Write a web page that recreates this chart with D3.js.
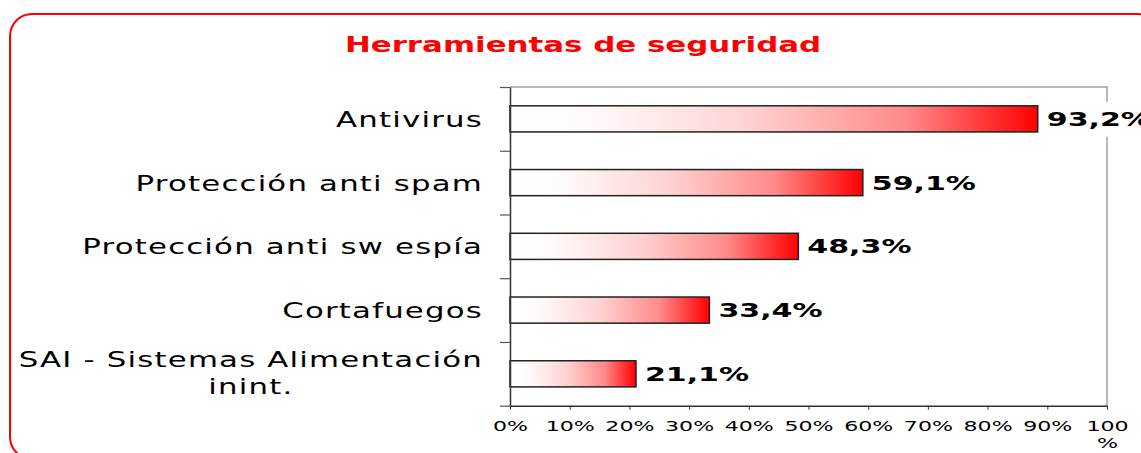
<!DOCTYPE html>
<html>
<head>
<meta charset="utf-8">
<script src="https://cdn.jsdelivr.net/npm/d3@7"></script>
<style>
body { margin: 0; background: #fff; overflow: hidden; }
text { font-family: "DejaVu Sans", Verdana, sans-serif; }
</style>
</head>
<body>
<svg width="1141" height="453"></svg>
<script>
// data
var categories = ["Antivirus", "Protección anti spam", "Protección anti sw espía", "Cortafuegos", "SAI - Sistemas Alimentación inint."];
var barValues = [88.4, 59.1, 48.3, 33.4, 21.1];   // bar lengths as drawn
var valueLabels = ["93,2%", "59,1%", "48,3%", "33,4%", "21,1%"];
var xTicks = [0, 10, 20, 30, 40, 50, 60, 70, 80, 90, 100];
var title = "Herramientas de seguridad";

var svg = d3.select("svg");

var plotLeft = 510, plotRight = 1107, plotTop = 87, plotBottom = 405.7;

// outer rounded frame
svg.append("rect")
    .attr("x", 10).attr("y", 14)
    .attr("width", 1150).attr("height", 445)
    .attr("rx", 22).attr("ry", 22)
    .attr("fill", "#fff")
    .attr("stroke", "#ff0000")
    .attr("stroke-width", 2);

svg.append("text")
    .attr("transform", "translate(583,52) scale(1.47,1)")
    .attr("text-anchor", "middle")
    .attr("font-size", 21)
    .attr("font-weight", "bold")
    .attr("fill", "#ff0000")
    .text(title);

var x = d3.scaleLinear().domain([0, 100]).range([plotLeft, plotRight]);
var y = d3.scaleBand().domain(categories).range([plotTop, plotBottom])
    .paddingInner(0.59).paddingOuter(0.295);
var yEdge = d3.scaleLinear().domain([0, categories.length]).range([plotTop, plotBottom]);

var defs = svg.append("defs");
var grad = defs.append("linearGradient").attr("id", "barGrad")
    .attr("x1", "0%").attr("x2", "100%").attr("y1", "0%").attr("y2", "0%");
grad.append("stop").attr("offset", "0%").attr("stop-color", "#ffffff");
grad.append("stop").attr("offset", "15%").attr("stop-color", "#fffafa");
grad.append("stop").attr("offset", "45%").attr("stop-color", "#ffd2d2");
grad.append("stop").attr("offset", "75%").attr("stop-color", "#ff8a8a");
grad.append("stop").attr("offset", "100%").attr("stop-color", "#ff0000");

// plot area border (top + right, grey)
svg.append("path")
    .attr("d", "M" + plotLeft + "," + plotTop + "H" + plotRight + "V" + plotBottom)
    .attr("fill", "none")
    .attr("stroke", "#a0a0a0")
    .attr("stroke-width", 1.5);

// bars
svg.append("g").selectAll("rect")
    .data(categories)
    .enter().append("rect")
      .attr("x", x(0))
      .attr("y", function(d) { return y(d); })
      .attr("width", function(d, i) { return x(barValues[i]) - x(0); })
      .attr("height", y.bandwidth())
      .attr("fill", "url(#barGrad)")
      .attr("stroke", "#222")
      .attr("stroke-width", 1.5);

// left axis (ticks between categories)
var yAxis = svg.append("g")
    .attr("transform", "translate(" + plotLeft + ",0)")
    .call(d3.axisLeft(yEdge).tickValues(d3.range(categories.length + 1))
      .tickFormat("").tickSize(10).tickSizeOuter(0));
yAxis.select(".domain").attr("stroke", "#333").attr("stroke-width", 1.5);
yAxis.selectAll(".tick line").attr("stroke", "#555").attr("stroke-width", 1.2);

// bottom axis
var xAxis = svg.append("g")
    .attr("transform", "translate(0," + plotBottom + ")")
    .call(d3.axisBottom(x).tickValues(xTicks)
      .tickFormat(function(d) { return d + "%"; }).tickSize(4).tickSizeOuter(0));
xAxis.select(".domain").attr("stroke", "#333").attr("stroke-width", 1.5);
xAxis.selectAll(".tick line").attr("stroke", "#333");
xAxis.selectAll(".tick text")
    .attr("font-family", "DejaVu Sans, Verdana, sans-serif")
    .attr("font-size", 14)
    .attr("fill", "#000")
    .attr("y", 15.5)
    .attr("transform", "scale(1.58,1)");
xAxis.selectAll(".tick text").filter(function(d) { return d === 100; })
    .each(function() {
      var t = d3.select(this);
      t.text("100");
      t.append("tspan").attr("x", 0).attr("dy", "1.2em").text("%");
    });

// category labels
var sxCat = 1.4, maxW = 475;
categories.forEach(function(name, i) {
  var g = svg.append("g")
      .attr("transform", "translate(483," + (y(name) + y.bandwidth() / 2) + ") scale(" + sxCat + ",1)");
  var t = g.append("text")
      .attr("font-size", 22)
      .attr("letter-spacing", 0.85)
      .attr("fill", "#000");
  // word wrap
  var words = name.split(" "), lines = [], cur = [];
  words.forEach(function(w) {
    cur.push(w);
    t.text(cur.join(" "));
    if (t.node().getComputedTextLength() * sxCat > maxW && cur.length > 1) {
      cur.pop();
      lines.push(cur.join(" "));
      cur = [w];
    }
  });
  lines.push(cur.join(" "));
  t.text(null);
  if (lines.length === 1) {
    t.attr("text-anchor", "end").attr("y", 8).text(lines[0]);
  } else {
    var widest = 0;
    lines.forEach(function(l) {
      t.text(l);
      widest = Math.max(widest, t.node().getComputedTextLength());
    });
    t.text(null).attr("text-anchor", "middle");
    var lh = 26.7, y0 = 8 - lh * (lines.length - 1) / 2 - 1;
    lines.forEach(function(l, k) {
      t.append("tspan").attr("x", -widest / 2).attr("y", y0 + k * lh).text(l);
    });
  }
});

// value labels with white backing
var sxVal = 1.58;
categories.forEach(function(name, i) {
  var g = svg.append("g")
      .attr("transform", "translate(" + (x(barValues[i]) + 9) + "," + (y(name) + y.bandwidth() / 2) + ")");
  var bg = g.append("rect").attr("fill", "#fff");
  var t = g.append("text")
      .attr("transform", "scale(" + sxVal + ",1)")
      .attr("font-size", 19)
      .attr("font-weight", "bold")
      .attr("fill", "#000")
      .attr("y", 7)
      .text(valueLabels[i]);
  var w = t.node().getComputedTextLength() * sxVal;
  bg.attr("x", 0).attr("y", -17).attr("width", w + 4).attr("height", 35);
});
</script>
</body>
</html>
